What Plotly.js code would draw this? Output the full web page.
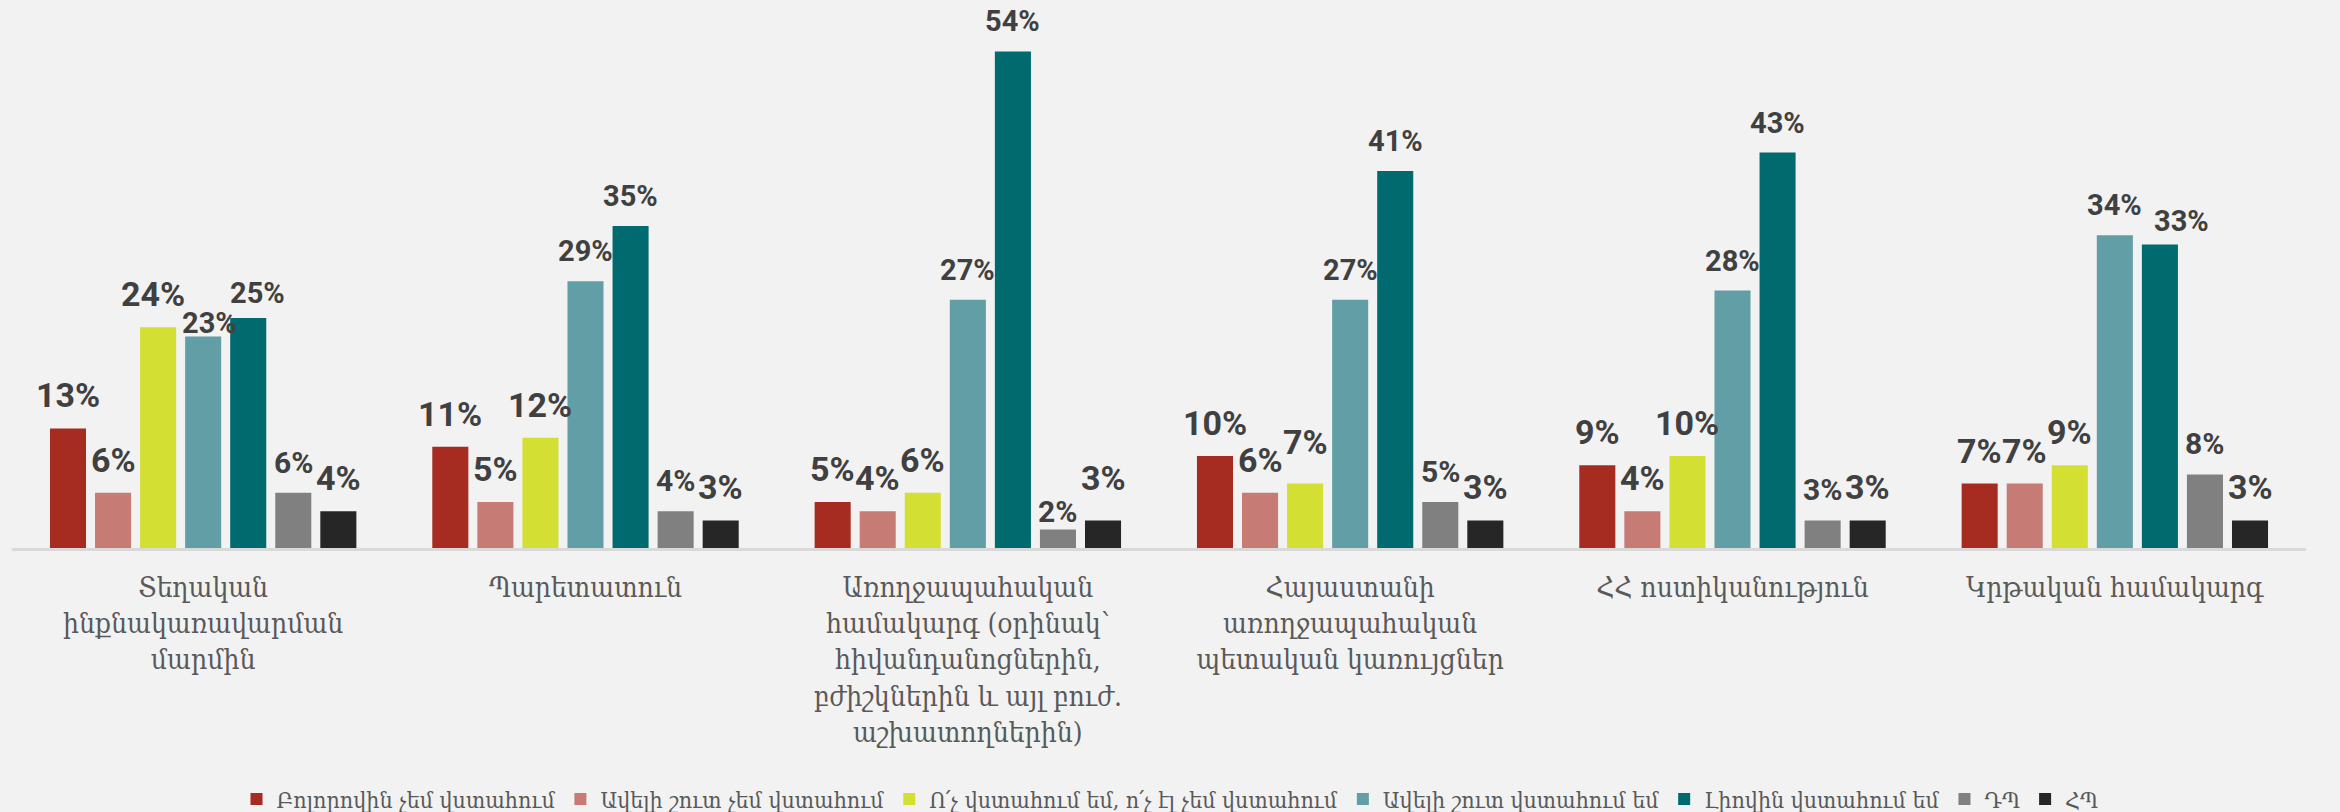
<!DOCTYPE html>
<html>
<head>
<meta charset="utf-8">
<script src="https://cdn.plot.ly/plotly-3.0.1.min.js"></script>
<style>html,body{margin:0;padding:0;background:#f2f2f2;}#chart{width:2340px;height:812px;}</style>
</head>
<body>
<div id="chart"></div>
<script>
const categories = [
  "Տեղական<br>ինքնակառավարման<br>մարմին",
  "Պարետատուն",
  "Առողջապահական<br>համակարգ (օրինակ՝<br>հիվանդանոցներին,<br>բժիշկներին և այլ բուժ.<br>աշխատողներին)",
  "Հայաստանի<br>առողջապահական<br>պետական կառույցներ",
  "ՀՀ ոստիկանություն",
  "Կրթական համակարգ"
];
const seriesNames = [
  "Բոլորովին չեմ վստահում",
  "Ավելի շուտ չեմ վստահում",
  "Ո՛չ վստահում եմ, ո՛չ էլ չեմ վստահում",
  "Ավելի շուտ վստահում եմ",
  "Լիովին վստահում եմ",
  "ԴՊ",
  "ՀՊ"
];
const notAtAll      = [13, 11, 5, 10, 9, 7];
const ratherNot     = [6, 5, 4, 6, 4, 7];
const neither       = [24, 12, 6, 7, 10, 9];
const ratherTrust   = [23, 29, 27, 27, 28, 34];
const fullyTrust    = [25, 35, 54, 41, 43, 33];
const dontKnow      = [6, 4, 2, 5, 3, 8];
const refuse        = [4, 3, 3, 3, 3, 3];

const seriesValues = [notAtAll, ratherNot, neither, ratherTrust, fullyTrust, dontKnow, refuse];
const colors = ["#a62b21", "#c77b75", "#d4df33", "#629ea5", "#006a6e", "#808080", "#262626"];
const labelSizes = [34, 34, 34, 29, 29, 30, 34];

// manual label placement tweaks (pixels) as in the original: "series,category": [dx, dy]
const labelNudge = {
  "2,0": [-5, 0], "3,0": [6, -17], "4,0": [9, -5],
  "5,2": [0, -12], "6,2": [0, 9], "2,3": [0, 9],
  "4,5": [22, -6]
};

const W = 2340, H = 812;
const margin = {l: 12, r: 34, t: 10, b: 264};
const bargap = 0.175;

const traces = seriesValues.map((vals, i) => ({
  type: "bar",
  name: seriesNames[i],
  x: categories,
  y: vals,
  marker: {color: colors[i]},
  hoverinfo: "skip"
}));

// data labels above each bar, shifted to each bar's slot within its group
const plotW = W - margin.l - margin.r;
const slot = plotW / categories.length * (1 - bargap) / seriesValues.length;
const annotations = [];
seriesValues.forEach((vals, i) => {
  vals.forEach((v, j) => {
    const n = labelNudge[i + "," + j] || [0, 0];
    annotations.push({
      xref: "x", yref: "y",
      x: categories[j], y: v,
      text: v + "%",
      showarrow: false,
      xanchor: "center", yanchor: "bottom",
      xshift: (i - (seriesValues.length - 1) / 2) * slot + n[0],
      yshift: 11 + n[1],
      font: {family: "Roboto, sans-serif", size: labelSizes[i], color: "#404040", weight: "bold"}
    });
  });
});

const armFont = "DejaVu Serif Condensed, DejaVu Serif, serif";

const layout = {
  width: W,
  height: H,
  paper_bgcolor: "#f2f2f2",
  plot_bgcolor: "#f2f2f2",
  margin: margin,
  barmode: "group",
  bargap: bargap,
  bargroupgap: 0.2,
  showlegend: true,
  annotations: annotations,
  legend: {
    orientation: "h",
    xref: "container", yref: "container",
    x: 0.5, xanchor: "center",
    y: 1 - 799 / H, yanchor: "middle",
    font: {family: armFont, size: 23, color: "#595959"},
    itemwidth: 30,
    tracegroupgap: 0,
    bgcolor: "rgba(0,0,0,0)"
  },
  xaxis: {
    type: "category",
    showline: true,
    linecolor: "#d9d9d9",
    linewidth: 3,
    ticks: "",
    ticklabelstandoff: 12,
    showgrid: false,
    tickfont: {family: armFont, size: 28, color: "#595959"}
  },
  yaxis: {
    range: [0, 58.5],
    visible: false,
    showgrid: false,
    zeroline: false
  }
};

Plotly.newPlot("chart", traces, layout, {displayModeBar: false, staticPlot: true});
</script>
</body>
</html>
